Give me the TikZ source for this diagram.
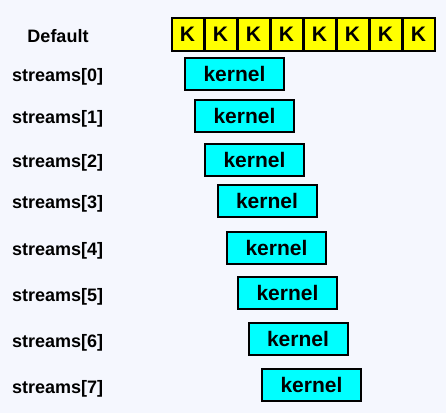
\documentclass[tikz,border=0pt]{standalone}
\usepackage{fontspec}
\setmainfont{Liberation Sans}
\definecolor{bg}{HTML}{F5F7FE}
\definecolor{kyellow}{HTML}{FFFF00}
\definecolor{kcyan}{HTML}{00FFFF}
\tikzset{
  lbl/.style={inner sep=0pt, font=\bfseries\fontsize{18}{20}\selectfont},
  kbox/.style={draw=black, line width=2pt, fill=kyellow, minimum width=32pt, minimum height=33pt, inner sep=0pt, font=\bfseries\fontsize{21}{23}\selectfont},
  kernelbox/.style={draw=black, line width=2pt, fill=kcyan, minimum width=99pt, minimum height=32pt, inner sep=0pt, font=\bfseries\fontsize{21}{23}\selectfont}
}
\begin{document}
\begin{tikzpicture}[x=1pt,y=-1pt]
\fill[bg] (0,0) rectangle (446,413);
\useasboundingbox (0,0) rectangle (446,413);
\node[lbl] (ldef) at (58,36) {Default};
\foreach \i in {0,...,7}{
  \node[kbox] (k\i) at ({171+16.5+33*\i},34.5) {K};
}
\foreach \i/\ly/\bx/\by in {0/77/234.5/74, 1/119/244.5/116, 2/163/254.5/160, 3/204/267/201, 4/251/276.5/248, 5/297/287.5/293, 6/343/298/339, 7/388.5/311.5/384.5}{
  \node[lbl, anchor=west] (s\i) at (12,\ly) {streams[\i]};
  \node[kernelbox] (b\i) at (\bx,\by) {kernel};
}
\end{tikzpicture}
\end{document}
